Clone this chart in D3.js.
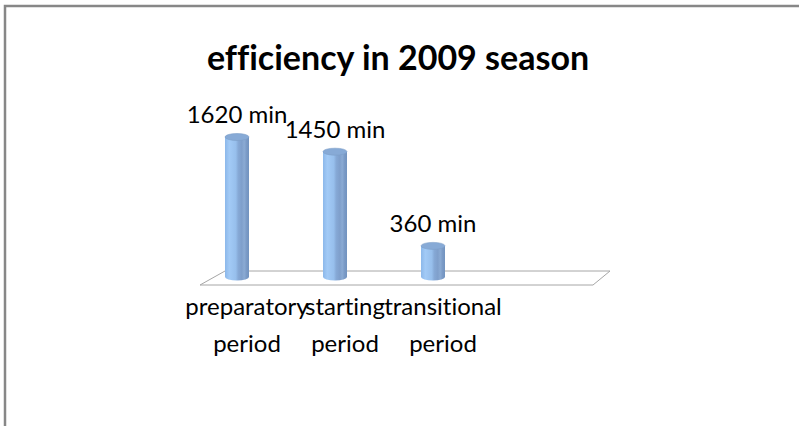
<!DOCTYPE html>
<html>
<head>
<meta charset="utf-8">
<script src="https://cdn.jsdelivr.net/npm/d3@7"></script>
<style>
  body { margin: 0; background: #fff; }
  svg text { font-family: Lato, "Open Sans", sans-serif; fill: #000; font-variant-ligatures: none; }
</style>
</head>
<body>
<svg width="799" height="426"></svg>
<script>
let width = 799,
    height = 426;

// chart data
let title = "efficiency in 2009 season";
let categories = ["preparatory period", "starting period", "transitional period"];
let values = [1620, 1450, 360];
let unit = "min";

let barWidth = 24,
    capRy = 3.5,
    depthX = 25,
    depthY = 14;

let svg = d3.select("svg");

// outer frame of the chart area
svg.append("rect")
    .attr("x", 5)
    .attr("y", 6)
    .attr("width", width + 10)
    .attr("height", height + 10)
    .attr("fill", "none")
    .attr("stroke", "#878787")
    .attr("stroke-width", 2.5);

svg.append("text")
    .attr("x", 398)
    .attr("y", 56)
    .attr("text-anchor", "middle")
    .attr("dominant-baseline", "central")
    .style("font-size", "34px")
    .style("font-weight", "bold")
    .text(title);

let x = d3.scaleBand()
    .domain(categories)
    .range([225, 519]);

let y = d3.scaleLinear()
    .domain([0, 1620])
    .range([277, 137]);

// floor (3d base plane)
let floorLeft = 200,
    floorRight = 593,
    floorFront = 285;
svg.append("path")
    .attr("d", d3.line()([
        [floorLeft, floorFront],
        [floorLeft + depthX, floorFront - depthY],
        [floorRight + 17, floorFront - depthY],
        [floorRight, floorFront]
    ]) + "Z")
    .attr("fill", "#fff")
    .attr("stroke", "#a6a6a6")
    .attr("stroke-width", 1);

let defs = svg.append("defs");
let grad = defs.append("linearGradient")
    .attr("id", "cyl")
    .attr("x1", 0).attr("x2", 1).attr("y1", 0).attr("y2", 0);
[
    [0, "#8cb8ea"], [0.18, "#a2caf6"], [0.45, "#97bfec"], [0.55, "#86a9d6"],
    [0.7, "#7f9fcb"], [0.8, "#8babd4"], [0.9, "#7a9ac6"], [1, "#7293bf"]
].forEach(s => grad.append("stop").attr("offset", s[0]).attr("stop-color", s[1]));

let bars = svg.append("g")
    .selectAll("g")
    .data(categories.map((c, i) => ({cat: c, value: values[i]})))
    .enter().append("g");

bars.append("ellipse")
    .attr("cx", d => x(d.cat) + barWidth / 2)
    .attr("cy", y(0))
    .attr("rx", barWidth / 2)
    .attr("ry", capRy)
    .attr("fill", "url(#cyl)");

bars.append("rect")
    .attr("x", d => x(d.cat))
    .attr("y", d => y(d.value))
    .attr("width", barWidth)
    .attr("height", d => y(0) - y(d.value))
    .attr("fill", "url(#cyl)");

bars.append("ellipse")
    .attr("cx", d => x(d.cat) + barWidth / 2)
    .attr("cy", d => y(d.value))
    .attr("rx", barWidth / 2)
    .attr("ry", capRy)
    .attr("fill", "#87aad6")
    .attr("stroke", "#7c9dc8")
    .attr("stroke-width", 0.6);

bars.append("text")
    .attr("x", d => x(d.cat) + barWidth / 2)
    .attr("y", d => y(d.value) - 14)
    .attr("text-anchor", "middle")
    .style("font-size", "24px")
    .text(d => d.value + " " + unit);

// category labels sit under the front edge of the floor
let catLabels = svg.append("g")
    .selectAll("text")
    .data(categories)
    .enter().append("text")
    .attr("x", d => x(d) + barWidth / 2 + 10)
    .attr("y", 307)
    .attr("text-anchor", "middle")
    .style("font-size", "24px");

catLabels.selectAll("tspan")
    .data(d => d.split(" "))
    .enter().append("tspan")
    .attr("x", function () { return d3.select(this.parentNode).attr("x"); })
    .attr("dy", (d, i) => i === 0 ? "0.35em" : "37px")
    .text(d => d);
</script>
</body>
</html>
